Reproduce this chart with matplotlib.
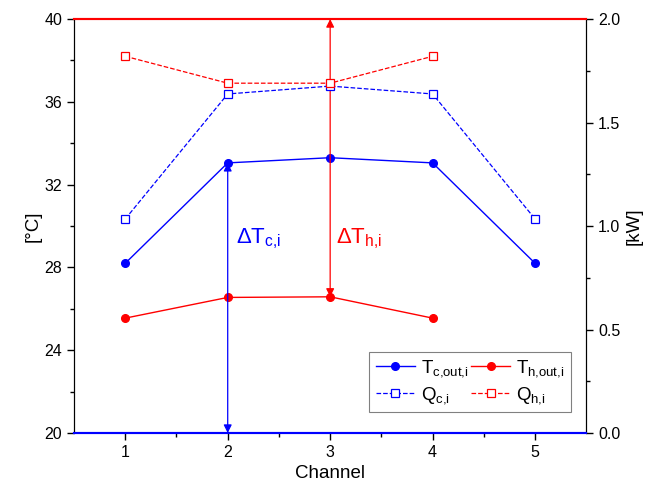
import matplotlib
matplotlib.use("Agg")
import matplotlib.pyplot as plt

plt.rcParams['font.family'] = ['Liberation Sans', 'DejaVu Sans']
plt.rcParams['mathtext.fontset'] = 'custom'
plt.rcParams['mathtext.rm'] = 'Liberation Sans'
plt.rcParams['mathtext.it'] = 'Liberation Sans'
plt.rcParams['mathtext.bf'] = 'Liberation Sans:bold'

# data
channel = [1, 2, 3, 4, 5]
t_c_out = [28.2, 33.05, 33.3, 33.05, 28.2]
channel_h = [1, 2, 3, 4]
t_h_out = [25.55, 26.55, 26.58, 25.55]
q_c = [1.034, 1.638, 1.676, 1.638, 1.034]
q_h = [1.82, 1.69, 1.69, 1.82]

fig = plt.figure(figsize=(6.67, 4.98), dpi=100)
ax = fig.add_axes([0.111, 0.1305, 0.768, 0.8313])
ax2 = ax.twinx()

l1, = ax.plot(channel, t_c_out, '-o', color='blue', lw=1, ms=5.5, label=r'$T_{c{,}out{,}i}$')
l2, = ax.plot(channel_h, t_h_out, '-o', color='red', lw=1, ms=5.5, label=r'$T_{h{,}out{,}i}$')
l3, = ax2.plot(channel, q_c, '--s', color='blue', lw=0.9, ms=6, mfc='white', mew=0.9,
               label=r'$Q_{c{,}i}$')
l4, = ax2.plot(channel_h, q_h, '--s', color='red', lw=0.9, ms=6, mfc='white', mew=0.9,
               label=r'$Q_{h{,}i}$')

ax.set_xlim(0.5, 5.5)
ax.set_ylim(20, 40)
ax2.set_ylim(0, 2.0)

# delta T arrows
ax.annotate('', xy=(2, t_c_out[1]), xytext=(2, 20),
            arrowprops=dict(arrowstyle='<|-|>', color='blue', lw=0.9,
                            mutation_scale=12, shrinkA=0, shrinkB=0))
ax.annotate('', xy=(3, 40), xytext=(3, t_h_out[2]),
            arrowprops=dict(arrowstyle='<|-|>', color='red', lw=0.9,
                            mutation_scale=12, shrinkA=0, shrinkB=0))
ax.text(2.08, 29.4, r'$\Delta T_{c{,}i}$', color='blue', fontsize=16, va='center')
ax.text(3.06, 29.4, r'$\Delta T_{h{,}i}$', color='red', fontsize=16, va='center')

for a in (ax, ax2):
    a.spines['top'].set_color('red')
    a.spines['bottom'].set_color('blue')
    a.spines['top'].set_linewidth(1.5)
    a.spines['bottom'].set_linewidth(1.5)
    a.tick_params(labelsize=11.5, length=5, width=1)
    a.tick_params(which='minor', length=3, width=1)

ax.set_xticks(channel)
ax.set_xticks([1.5, 2.5, 3.5, 4.5], minor=True)
ax.set_yticks([20, 24, 28, 32, 36, 40])
ax.set_yticks([22, 26, 30, 34, 38], minor=True)
ax2.set_yticks([0.0, 0.5, 1.0, 1.5, 2.0])
ax2.set_yticks([0.25, 0.75, 1.25, 1.75], minor=True)
ax2.set_yticklabels(['0.0', '0.5', '1.0', '1.5', '2.0'])

ax.set_xlabel('Channel', fontsize=13.5)
ax.set_ylabel('[°C]', fontsize=13.5, labelpad=2)
ax2.set_ylabel('[kW]', fontsize=13.5)

leg = ax2.legend(handles=[l1, l3, l2, l4], ncol=2, loc='lower right',
                 bbox_to_anchor=(0.97, 0.05), fontsize=13.5, fancybox=False,
                 edgecolor='gray', framealpha=1, handlelength=2.1,
                 columnspacing=0.15, handletextpad=0.3, borderpad=0.35,
                 labelspacing=0.3, borderaxespad=0)
leg.get_frame().set_linewidth(0.8)

fig.savefig('out.png', dpi=100)
